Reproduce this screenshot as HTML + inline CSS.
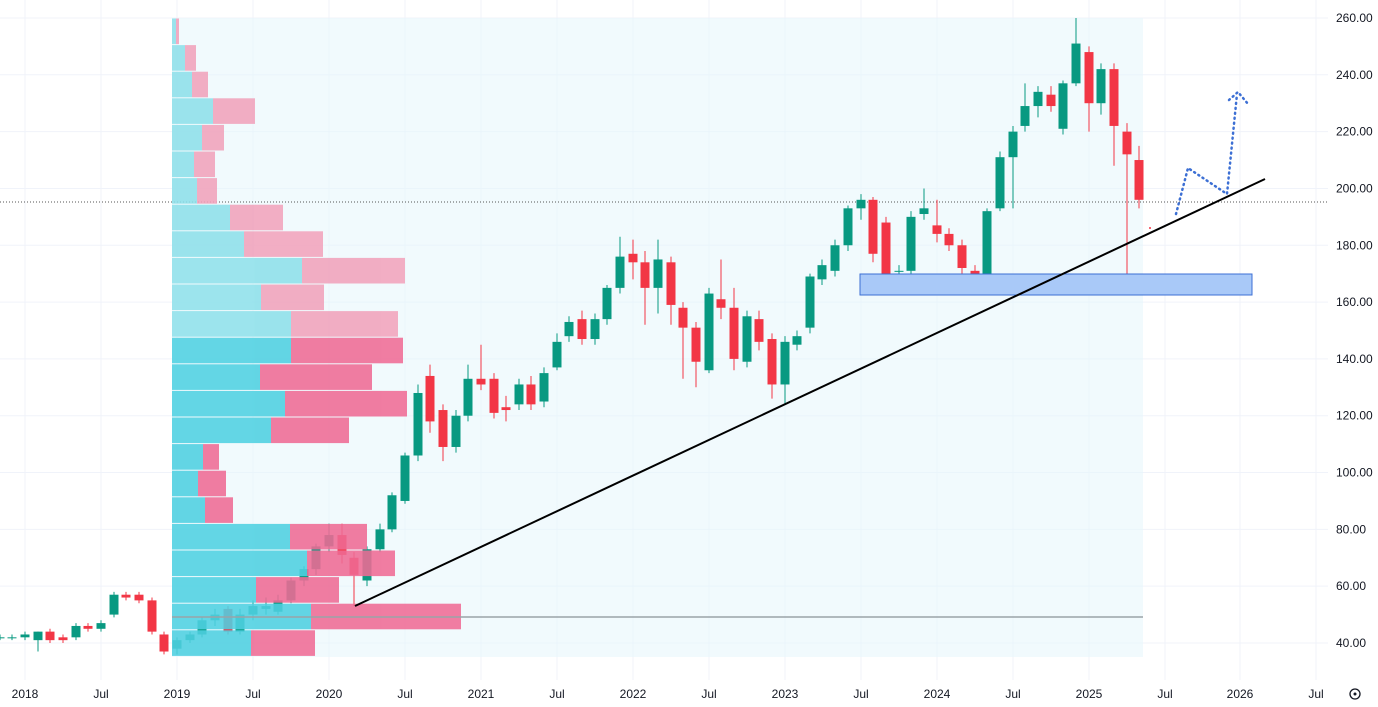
<!DOCTYPE html>
<html><head><meta charset="utf-8"><style>
body{margin:0;background:#fff;width:1378px;height:707px;overflow:hidden;font-family:"Liberation Sans",sans-serif}
svg{display:block}
text{font-family:"Liberation Sans",sans-serif;font-size:12px;fill:#131722}
</style></head><body>
<svg id="c" width="1378" height="707" xmlns="http://www.w3.org/2000/svg"></svg>
<script>
const s=document.getElementById('c');let h='';
const Y=v=>643-(v-40)*2.841;
for(let v=40;v<=260;v+=20){h+=`<line x1="0" x2="1328" y1="${Y(v)}" y2="${Y(v)}" stroke="#f0f3fa"/>`;h+=`<text x="1336" y="${Y(v)+4}">${v.toFixed(2)}</text>`;}
const xl=[[25,'2018'],[101,'Jul'],[177,'2019'],[253,'Jul'],[329,'2020'],[405,'Jul'],[481,'2021'],[557,'Jul'],[633,'2022'],[709,'Jul'],[785,'2023'],[861,'Jul'],[937,'2024'],[1013,'Jul'],[1089,'2025'],[1165,'Jul'],[1240,'2026'],[1316,'Jul']];
xl.forEach(([x,t])=>{h+=`<line x1="${x}" x2="${x}" y1="0" y2="680" stroke="#f0f3fa"/>`;h+=`<text x="${x}" y="698" text-anchor="middle">${t}</text>`;});
h+=`<circle cx="1355" cy="694" r="5" fill="none" stroke="#131722" stroke-width="1.3"/><circle cx="1355" cy="694" r="1.5" fill="#131722"/>`;
h+=`<rect x="172" y="18" width="971" height="639" fill="#e6f6fc" opacity="0.55"/>`;
h+=`<line x1="0" x2="1328" y1="202" y2="202" stroke="#555" stroke-dasharray="1,2"/>`;
const C=[[0,42,42,43,41],[12,42,42,43,41],[25,42,43,44,41],[38,41,44,44,37],[50,44,41,45,40],[63,42,41,43,40],[76,42,46,47,41],[88,46,45,47,44],[101,45,47,48,44],[114,50,57,58,49],[126,57,56,58,55],[139,57,55,58,54],[152,55,44,56,43],[164,43,37,44,36],
[177,38,41,42,36],[190,41,43,44,40],[202,43,48,49,42],[215,48,50,52,46],[228,52,44,53,43],[240,44,50,52,43],[253,50,53,55,48],[266,52,53,56,50],[278,51,55,57,50],[291,55,62,63,54],[304,62,66,67,60],[316,66,74,75,64],
[329,74,78,82,72],[342,78,71,82,68],[354,70,64,72,53],[367,62,73,74,60],[380,73,80,82,72],[392,80,92,93,79],[405,90,106,107,89],[418,106,128,131,104],[430,134,118,138,114],[443,122,109,124,104],[456,109,120,122,107],[468,120,133,138,118],
[481,133,131,145,129],[494,133,121,135,119],[506,123,122,127,118],[519,124,131,133,122],[531,131,124,134,122],[544,125,135,137,123],[557,137,146,149,136],[569,148,153,155,146],[582,154,147,157,145],[595,147,154,156,145],[607,154,165,166,152],[620,165,176,183,163],
[633,177,174,182,168],[645,174,165,178,152],[658,165,175,182,156],[671,174,159,176,152],[683,158,151,160,133],[696,151,139,153,130],[709,136,163,165,135],[721,161,158,175,154],[734,158,140,165,136],[747,139,155,157,137],[759,154,146,157,143],[772,147,131,149,126],[785,131,146,148,124],
[797,145,148,150,143],[810,151,169,170,149],[822,168,173,175,166],[835,171,180,182,169],[848,180,193,194,178],[861,193,196,198,189],[873,196,177,197,174],[886,188,170,190,168],[899,171,171,173,166],[911,171,190,192,169],[924,191,193,200,189],
[937,187,184,196,181],[949,184,180,186,178],[962,180,172,182,169],[975,171,170,173,164],[987,170,192,193,169],[1000,193,211,213,192],[1013,211,220,222,193],[1025,222,229,237,220],[1038,229,234,236,225],[1051,233,229,236,227],[1063,221,237,238,219],
[1076,237,251,260,236],[1089,248,230,250,220],[1101,230,242,244,226],[1114,242,222,244,208],[1127,220,212,223,170],[1139,210,196,215,193]];
C.forEach(([x,o,c,hi,lo])=>{const col=c>=o?'#089981':'#f23645';const t=Y(Math.max(o,c)),b=Y(Math.min(o,c));h+=`<line x1="${x}" x2="${x}" y1="${Y(hi)}" y2="${Y(lo)}" stroke="${col}"/><rect x="${x-4.5}" y="${t}" width="9" height="${Math.max(1,b-t)}" fill="${col}"/>`;});
const rows=[[176,179],[185,196],[192,208],[213,255],[202,224],[194,215],[197,217],[230,283],[244,323],[302,405],[261,324],[291,398],[291,403],[260,372],[285,407],[271,349],[203,219],[198,226],[205,233],[290,367],[307,395],[256,339],[311,461],[251,315]];
rows.forEach((r,i)=>{const y=18+i*26.6;const l=i<12;h+=`<g opacity="0.88"><rect x="172" y="${y+0.5}" width="${r[0]-172}" height="25.6" fill="${l?'#8fe0ea':'#4fd0e1'}"/><rect x="${r[0]}" y="${y+0.5}" width="${r[1]-r[0]}" height="25.6" fill="${l?'#f1a3bc':'#ef6b95'}"/></g>`;});
h+=`<line x1="172" x2="1143" y1="617" y2="617" stroke="#9aa3a8" stroke-width="1.5"/>`;
h+=`<rect x="860" y="274" width="392" height="21" fill="#a9c9f8" stroke="#3c6fd4"/>`;
h+=`<line x1="355" y1="606" x2="1265" y2="179" stroke="#000" stroke-width="2"/>`;
h+=`<polyline points="1176,214 1188,168 1227,194 1237,94" fill="none" stroke="#3c6fd4" stroke-width="2.5" stroke-dasharray="1,4" stroke-linecap="round"/>`;
h+=`<polyline points="1229,100 1238,92 1248,104" fill="none" stroke="#3c6fd4" stroke-width="2.5" stroke-dasharray="1,4" stroke-linecap="round"/>`;
h+=`<circle cx="1150" cy="228" r="1" fill="#f23645"/>`;
s.innerHTML=h;
</script>
</body></html>
